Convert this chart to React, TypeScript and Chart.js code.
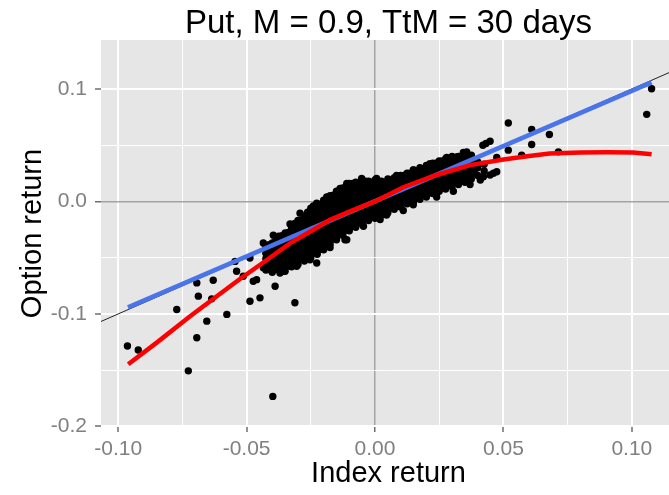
import { useEffect, useRef } from "react";
import { Chart, registerables } from "chart.js";

Chart.register(...registerables);

const TITLE = "Put, M = 0.9, TtM = 30 days";
const X_TITLE = "Index return";
const Y_TITLE = "Option return";

const xMajorTicks = [-0.1, -0.05, 0, 0.05, 0.1];
const xMinorTicks = [-0.075, -0.025, 0.025, 0.075];
const yMajorTicks = [-0.2, -0.1, 0, 0.1];
const yMinorTicks = [-0.15, -0.05, 0.05];
const xLimits = [-0.1067, 0.1172];
const yLimits = [-0.2005, 0.1435];

// identity line y = x
const identityX = [-0.1067, 0.1172];
const identityY = [-0.1067, 0.1172];

// linear fit (blue)
const lmX = [-0.0962, 0.1077];
const lmY = [-0.0942, 0.1058];

// loess fit (red)
const loessX = [-0.0961, -0.085, -0.072, -0.059, -0.0526, -0.042, -0.033, -0.024, -0.0175, -0.009, 0.0, 0.011, 0.024, 0.037, 0.05, 0.06, 0.068, 0.08, 0.09, 0.1005, 0.1077];
const loessY = [-0.1447, -0.1255, -0.102, -0.0798, -0.069, -0.0518, -0.037, -0.0252, -0.0164, -0.0082, 0.0, 0.0126, 0.0235, 0.0323, 0.0373, 0.0403, 0.0426, 0.0435, 0.0437, 0.0435, 0.042];

// dense core of the scatter, by column: [index return, option returns]
const coreColumns: [number, number[]][] = [
  [-0.0425, [-0.061, -0.056, -0.051, -0.046, -0.041]],
  [-0.04, [-0.063, -0.058, -0.053, -0.048, -0.043, -0.037]],
  [-0.0375, [-0.06, -0.055, -0.05, -0.045, -0.04, -0.035, -0.031]],
  [-0.035, [-0.062, -0.057, -0.052, -0.047, -0.042, -0.037, -0.032, -0.028]],
  [-0.0325, [-0.058, -0.053, -0.048, -0.043, -0.038, -0.033, -0.028, -0.024]],
  [-0.03, [-0.056, -0.051, -0.046, -0.041, -0.036, -0.031, -0.026, -0.021, -0.017]],
  [-0.0275, [-0.053, -0.048, -0.043, -0.038, -0.033, -0.028, -0.023, -0.018, -0.013]],
  [-0.025, [-0.05, -0.045, -0.04, -0.035, -0.03, -0.025, -0.02, -0.015, -0.01, -0.006]],
  [-0.0225, [-0.047, -0.042, -0.037, -0.032, -0.027, -0.022, -0.017, -0.012, -0.007, -0.003]],
  [-0.02, [-0.043, -0.038, -0.033, -0.028, -0.023, -0.018, -0.013, -0.008, -0.003, 0.001]],
  [-0.0175, [-0.038, -0.033, -0.028, -0.023, -0.018, -0.013, -0.008, -0.003, 0.002, 0.005]],
  [-0.015, [-0.034, -0.029, -0.024, -0.019, -0.014, -0.009, -0.004, 0.001, 0.006, 0.009]],
  [-0.0125, [-0.03, -0.025, -0.02, -0.015, -0.01, -0.005, 0.0, 0.005, 0.01, 0.012]],
  [-0.01, [-0.026, -0.021, -0.016, -0.011, -0.006, -0.001, 0.004, 0.009, 0.014, 0.016]],
  [-0.0075, [-0.023, -0.018, -0.013, -0.008, -0.003, 0.002, 0.007, 0.012, 0.017]],
  [-0.005, [-0.02, -0.015, -0.01, -0.005, 0.0, 0.005, 0.01, 0.015, 0.019]],
  [-0.0025, [-0.017, -0.012, -0.007, -0.002, 0.003, 0.008, 0.013, 0.018]],
  [0.0, [-0.015, -0.01, -0.005, 0.0, 0.005, 0.01, 0.015, 0.019]],
  [0.0025, [-0.012, -0.007, -0.002, 0.003, 0.008, 0.013, 0.018]],
  [0.005, [-0.01, -0.005, 0.0, 0.005, 0.01, 0.015, 0.02]],
  [0.0075, [-0.007, -0.002, 0.003, 0.008, 0.013, 0.018, 0.021]],
  [0.01, [-0.005, 0.0, 0.005, 0.01, 0.015, 0.02, 0.023]],
  [0.0125, [-0.002, 0.003, 0.008, 0.013, 0.018, 0.023, 0.025]],
  [0.015, [0.0, 0.005, 0.01, 0.015, 0.02, 0.025, 0.028]],
  [0.0175, [0.002, 0.007, 0.012, 0.017, 0.022, 0.027, 0.03]],
  [0.02, [0.004, 0.009, 0.014, 0.019, 0.024, 0.029, 0.032]],
  [0.0225, [0.007, 0.012, 0.017, 0.022, 0.027, 0.032, 0.034]],
  [0.025, [0.009, 0.014, 0.019, 0.024, 0.029, 0.034, 0.036]],
  [0.0275, [0.011, 0.016, 0.021, 0.026, 0.031, 0.036, 0.038]],
  [0.03, [0.013, 0.018, 0.023, 0.028, 0.033, 0.038, 0.04]],
  [0.0325, [0.015, 0.02, 0.025, 0.03, 0.035, 0.04]],
  [0.035, [0.017, 0.023, 0.029, 0.034, 0.039, 0.042]],
  [0.0375, [0.02, 0.026, 0.032, 0.037, 0.041]],
  [0.04, [0.023, 0.03, 0.035]],
  [0.0425, [0.027, 0.033]],
];

// interleaved columns filling the gaps of the dense core
const coreColumnsOffset: [number, number[]][] = [
  [-0.04125, [-0.0585, -0.0535, -0.0485, -0.0435, -0.0385]],
  [-0.03875, [-0.0605, -0.0555, -0.0505, -0.0455, -0.0405, -0.0355]],
  [-0.03625, [-0.0595, -0.0545, -0.0495, -0.0445, -0.0395, -0.0345, -0.0305]],
  [-0.03375, [-0.0575, -0.0525, -0.0475, -0.0425, -0.0375, -0.0325, -0.0275]],
  [-0.03125, [-0.0535, -0.0485, -0.0435, -0.0385, -0.0335, -0.0285, -0.0235, -0.0195]],
  [-0.02875, [-0.0515, -0.0465, -0.0415, -0.0365, -0.0315, -0.0265, -0.0215, -0.0165]],
  [-0.02625, [-0.0485, -0.0435, -0.0385, -0.0335, -0.0285, -0.0235, -0.0185, -0.0135, -0.0095]],
  [-0.02375, [-0.0455, -0.0405, -0.0355, -0.0305, -0.0255, -0.0205, -0.0155, -0.0105, -0.0055]],
  [-0.02125, [-0.0425, -0.0375, -0.0325, -0.0275, -0.0225, -0.0175, -0.0125, -0.0075, -0.0025]],
  [-0.01875, [-0.0385, -0.0335, -0.0285, -0.0235, -0.0185, -0.0135, -0.0085, -0.0035, 0.0015]],
  [-0.01625, [-0.0335, -0.0285, -0.0235, -0.0185, -0.0135, -0.0085, -0.0035, 0.0015, 0.0055]],
  [-0.01375, [-0.0295, -0.0245, -0.0195, -0.0145, -0.0095, -0.0045, 0.0005, 0.0055, 0.0095]],
  [-0.01125, [-0.0255, -0.0205, -0.0155, -0.0105, -0.0055, -0.0005, 0.0045, 0.0095, 0.0135]],
  [-0.00875, [-0.022, -0.017, -0.012, -0.007, -0.002, 0.003, 0.008, 0.013, 0.016]],
  [-0.00625, [-0.019, -0.014, -0.009, -0.004, 0.001, 0.006, 0.011, 0.016]],
  [-0.00375, [-0.016, -0.011, -0.006, -0.001, 0.004, 0.009, 0.014, 0.018]],
  [-0.00125, [-0.0135, -0.0085, -0.0035, 0.0015, 0.0065, 0.0115, 0.0165]],
  [0.00125, [-0.011, -0.006, -0.001, 0.004, 0.009, 0.014, 0.018]],
  [0.00375, [-0.0085, -0.0035, 0.0015, 0.0065, 0.0115, 0.0165]],
  [0.00625, [-0.006, -0.001, 0.004, 0.009, 0.014, 0.019]],
  [0.00875, [-0.0035, 0.0015, 0.0065, 0.0115, 0.0165, 0.021]],
  [0.01125, [-0.001, 0.004, 0.009, 0.014, 0.019, 0.023]],
  [0.01375, [0.001, 0.006, 0.011, 0.016, 0.021, 0.025]],
  [0.01625, [0.0035, 0.0085, 0.0135, 0.0185, 0.0235, 0.027]],
  [0.01875, [0.0055, 0.0105, 0.0155, 0.0205, 0.0255, 0.029]],
  [0.02125, [0.008, 0.013, 0.018, 0.023, 0.028, 0.031]],
  [0.02375, [0.0105, 0.0155, 0.0205, 0.0255, 0.0305, 0.034]],
  [0.02625, [0.0125, 0.0175, 0.0225, 0.0275, 0.0325, 0.036]],
  [0.02875, [0.0145, 0.0195, 0.0245, 0.0295, 0.0345, 0.038]],
  [0.03125, [0.0165, 0.0215, 0.0265, 0.0315, 0.0365]],
  [0.03375, [0.019, 0.024, 0.029, 0.034, 0.039]],
  [0.03625, [0.022, 0.028, 0.033, 0.038]],
  [0.03875, [0.025, 0.031, 0.036]],
];

// ragged edges of the cloud
const edgePoints: [number, number][] = [
  [-0.0052, 0.0205], [-0.011, 0.0161], [-0.0136, 0.0116], [0.0006, 0.0205], [0.0084, 0.023],
  [0.0149, 0.0279], [0.0214, 0.0335], [0.0279, 0.0392], [0.0344, 0.0435], [-0.0188, 0.004],
  [-0.024, -0.004], [-0.0292, -0.0104], [-0.0331, -0.02], [-0.0396, -0.03], [-0.0435, -0.037],
  [-0.0227, -0.0016], [-0.0117, -0.034], [-0.0175, -0.041], [-0.0227, -0.0459], [-0.0253, -0.0518],
  [-0.0305, -0.0577], [-0.0357, -0.0621], [-0.0435, -0.059], [-0.0045, -0.022], [0.002, -0.016],
  [0.0045, -0.012], [0.011, -0.008], [0.0149, -0.003], [0.024, 0.004], [0.0305, 0.009],
  [0.037, 0.015], [0.041, 0.019],
];

// isolated points
const outliers: [number, number][] = [
  [-0.0964, -0.1285], [-0.0922, -0.132], [-0.0772, -0.096], [-0.0694, -0.0724], [-0.0688, -0.0842],
  [-0.0694, -0.1211], [-0.0727, -0.1506], [-0.0655, -0.1064], [-0.063, -0.0701], [-0.0636, -0.0866],
  [-0.0577, -0.1004], [-0.0539, -0.0621], [-0.0487, -0.0887], [-0.0448, -0.0857], [-0.0389, -0.0754],
  [-0.0398, -0.1733], [-0.0312, -0.0901], [-0.0402, -0.0621], [-0.037, -0.0636], [-0.0474, -0.071],
  [-0.0461, -0.0695], [-0.0513, -0.0665], [-0.0422, -0.0429], [-0.0383, -0.037], [-0.0227, -0.0547],
  [-0.011, -0.0341], [-0.0545, -0.0533], [-0.0487, -0.0503],
  [0.0519, 0.0697], [0.061, 0.0639], [0.0679, 0.0595], [0.061, 0.0506], [0.0432, 0.0515],
  [0.042, 0.05], [0.0448, 0.0535], [0.0519, 0.0456], [0.0474, 0.0391], [0.0571, 0.0412],
  [0.0714, 0.0441], [0.1077, 0.1002], [0.1058, 0.0774], [0.0461, 0.025], [0.0422, 0.022],
  [0.035, 0.0427], [0.0357, 0.0441], [0.0318, 0.0396], [0.0474, 0.0264], [0.0448, 0.0235],
];

const FONT = '"Liberation Sans", Arial, sans-serif';

const decorPlugin = {
  id: "decor",
  beforeDraw(chart: any) {
    const { ctx, chartArea: a } = chart;
    ctx.save();
    ctx.fillStyle = "#e6e6e6";
    ctx.fillRect(a.left, a.top, a.right - a.left, a.bottom - a.top);
    ctx.restore();
  },
  afterDraw(chart: any) {
    const { ctx, chartArea: a } = chart;
    const cx = (a.left + a.right) / 2;
    ctx.save();
    ctx.fillStyle = "#000";
    ctx.textAlign = "center";
    ctx.textBaseline = "alphabetic";
    ctx.font = `33px ${FONT}`;
    ctx.fillText(TITLE, cx, 33);
    ctx.font = `29px ${FONT}`;
    ctx.fillText(X_TITLE, cx, 482);
    ctx.translate(41, (a.top + a.bottom) / 2);
    ctx.rotate(-Math.PI / 2);
    ctx.fillText(Y_TITLE, 0, 0);
    ctx.restore();
  },
};

function gridColor(ctx: any) {
  const v = ctx.tick ? ctx.tick.value : null;
  if (v === 0) return "#a3a3a3";
  return "#ffffff";
}

function makeGridWidth(major: number[]) {
  return (ctx: any) => {
    const v = ctx.tick ? ctx.tick.value : null;
    if (v === 0) return 1.5;
    return major.includes(v) ? 2 : 1;
  };
}

function makeTickColor(major: number[]) {
  return (ctx: any) => {
    const v = ctx.tick ? ctx.tick.value : null;
    return major.includes(v) ? "#6e6e6e" : "rgba(0,0,0,0)";
  };
}

export default function App() {
  const ref = useRef<HTMLCanvasElement | null>(null);

  useEffect(() => {
    if (!ref.current) return;
    const scatterData: { x: number; y: number }[] = [];
    coreColumns.forEach(([x, ys]) => ys.forEach((y) => scatterData.push({ x, y })));
    coreColumnsOffset.forEach(([x, ys]) => ys.forEach((y) => scatterData.push({ x, y })));
    edgePoints.forEach(([x, y]) => scatterData.push({ x, y }));
    outliers.forEach(([x, y]) => scatterData.push({ x, y }));

    const chart = new Chart(ref.current, {
      type: "scatter",
      data: {
        datasets: [
          {
            data: loessX.map((x, i) => ({ x, y: loessY[i] })),
            showLine: true,
            borderColor: "#ff0000",
            borderWidth: 4.5,
            pointRadius: 0,
            tension: 0,
            order: 0,
          },
          {
            data: lmX.map((x, i) => ({ x, y: lmY[i] })),
            showLine: true,
            borderColor: "#4a74ea",
            borderWidth: 4.5,
            pointRadius: 0,
            order: 1,
          },
          {
            data: identityX.map((x, i) => ({ x, y: identityY[i] })),
            showLine: true,
            borderColor: "#222222",
            borderWidth: 1,
            pointRadius: 0,
            order: 2,
          },
          {
            data: scatterData,
            showLine: false,
            pointRadius: 3.7,
            pointBorderWidth: 0,
            pointBackgroundColor: "#000000",
            backgroundColor: "#000000",
            order: 3,
          },
        ] as any,
      },
      options: {
        responsive: false,
        animation: false,
        devicePixelRatio: 1,
        layout: { padding: { top: 40, right: 4, bottom: 0, left: 0 } },
        plugins: { legend: { display: false }, tooltip: { enabled: false }, title: { display: false } },
        events: [],
        scales: {
          x: {
            type: "linear",
            min: xLimits[0],
            max: xLimits[1],
            afterBuildTicks: (s: any) => {
              s.ticks = [...xMajorTicks, ...xMinorTicks].sort((a, b) => a - b).map((v) => ({ value: v }));
            },
            afterFit: (s: any) => {
              s.height = 68;
            },
            ticks: {
              autoSkip: false,
              maxRotation: 0,
              padding: 5,
              color: "#808080",
              font: { family: FONT, size: 21 },
              callback: (v: any) => (xMajorTicks.includes(v) ? Number(v).toFixed(2) : ""),
            },
            grid: {
              color: gridColor,
              lineWidth: makeGridWidth(xMajorTicks),
              tickLength: 5,
              tickWidth: 1.5,
              tickColor: makeTickColor(xMajorTicks),
            },
            border: { display: false },
          },
          y: {
            type: "linear",
            min: yLimits[0],
            max: yLimits[1],
            afterBuildTicks: (s: any) => {
              s.ticks = [...yMajorTicks, ...yMinorTicks].sort((a, b) => a - b).map((v) => ({ value: v }));
            },
            afterFit: (s: any) => {
              s.width = 101;
            },
            ticks: {
              autoSkip: false,
              padding: 8,
              color: "#808080",
              font: { family: FONT, size: 21 },
              callback: (v: any) => (yMajorTicks.includes(v) ? Number(v).toFixed(1) : ""),
            },
            grid: {
              color: gridColor,
              lineWidth: makeGridWidth(yMajorTicks),
              tickLength: 6,
              tickWidth: 1.5,
              tickColor: makeTickColor(yMajorTicks),
            },
            border: { display: false },
          },
        },
      } as any,
      plugins: [decorPlugin],
    });
    return () => chart.destroy();
  }, []);

  return (
    <div
      style={{
        position: "fixed",
        left: 0,
        top: 0,
        width: 669,
        height: 495,
        overflow: "hidden",
        background: "#ffffff",
      }}
    >
      <canvas ref={ref} width={680} height={495} style={{ display: "block" }} />
    </div>
  );
}
